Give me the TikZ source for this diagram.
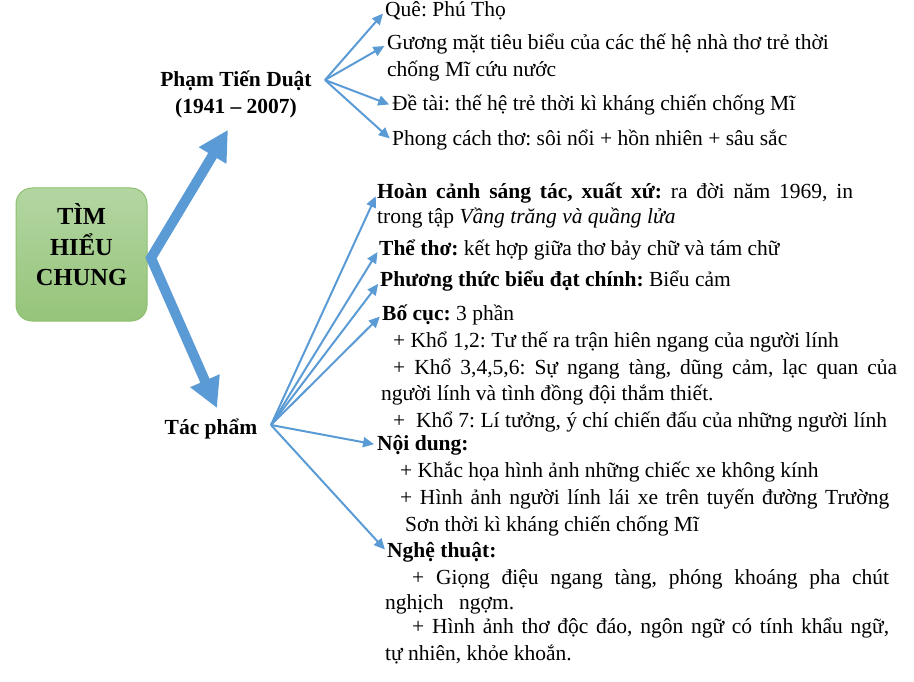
\documentclass[tikz,border=0pt]{standalone}
\usepackage{fontspec}
\setmainfont{Liberation Serif}
\usepackage{xcolor}
\usetikzlibrary{arrows.meta,positioning}
\frenchspacing

\definecolor{arrowblue}{HTML}{5B9BD5}
\definecolor{boxtop}{HTML}{B3D6A2}
\definecolor{boxbot}{HTML}{96C47A}
\definecolor{boxline}{HTML}{8DBF6E}

\tikzset{
  txt/.style={anchor=base west, inner sep=0pt, font=\fontsize{21.5}{27}\selectfont},
  lbl/.style={inner sep=0pt, align=center, font=\fontsize{21.5}{27}\selectfont\bfseries},
  rootbox/.style={draw=boxline, line width=1pt, rounded corners=16pt, top color=boxtop,
    bottom color=boxbot, minimum width=131pt, minimum height=133pt, align=center,
    inner sep=0pt, font=\fontsize{24.5}{30.5}\selectfont\bfseries},
  fan/.style={draw=arrowblue, line width=2pt, shorten >=3pt, -{Triangle[length=11pt,width=10pt]}},
  big/.style={draw=arrowblue, line width=10pt, line join=miter,
    {Triangle[length=30pt,width=30pt]}-{Triangle[length=30pt,width=30pt]}}
}

\begin{document}
\begin{tikzpicture}[x=1pt,y=-1pt]
\useasboundingbox (0,0) rectangle (914,682);

\node[rootbox] (tim) at (81.5,254.5) {TÌM\\HIỂU\\CHUNG\rule[-19.5pt]{0pt}{19.5pt}};
\coordinate (bend) at (151,258);

\node[lbl, anchor=base] (tg) at (236,114) {Phạm Tiến Duật\\(1941 – 2007)};
\node[lbl, anchor=base] (tp) at (211,434) {Tác phẩm};
\draw[big] ([xshift=-8pt,yshift=-11pt]tg.south) -- (bend) -- ([xshift=6pt,yshift=10pt]tp.north);

% tac gia
\node[txt] (que) at (385,17) {Quê: Phú Thọ};
\node[txt] (gm) at (387,50) {Gương mặt tiêu biểu của các thế hệ nhà thơ trẻ thời};
\node[txt] (gm2) at (387,77) {chống Mĩ cứu nước};
\node[txt] (dt) at (392,111) {Đề tài: thế hệ trẻ thời kì kháng chiến chống Mĩ};
\node[txt] (pc) at (392,146) {Phong cách thơ: sôi nổi + hồn nhiên + sâu sắc};

% tac pham
\node[txt] (hc) at (377,199) {\makebox[476pt][s]{\textbf{Hoàn cảnh sáng tác, xuất xứ:} ra đời năm 1969, in}};
\node[txt] (hc2) at (377,224) {trong tập \textit{Vầng trăng và quầng lửa}};
\node[txt] (tt) at (379,255) {\textbf{Thể thơ:} kết hợp giữa thơ bảy chữ và tám chữ};
\node[txt] (pt) at (380,287) {\textbf{Phương thức biểu đạt chính:} Biểu cảm};
\node[txt] (bc) at (382,320) {\textbf{Bố cục:} 3 phần};
\node[txt] (k12) at (393,347) {+ Khổ 1,2: Tư thế ra trận hiên ngang của người lính};
\node[txt] (k36) at (393,374) {\makebox[504pt][s]{+ Khổ 3,4,5,6: Sự ngang tàng, dũng cảm, lạc quan của}};
\node[txt] (k36b) at (381,400) {người lính và tình đồng đội thắm thiết.};
\node[txt] (k7) at (393,427) {+\ \ Khổ 7: Lí tưởng, ý chí chiến đấu của những người lính};
\node[txt] (nd) at (377,450) {\textbf{Nội dung:}};
\node[txt] (nd1) at (400,477) {+ Khắc họa hình ảnh những chiếc xe không kính};
\node[txt] (nd2) at (400,504) {\makebox[489pt][s]{+ Hình ảnh người lính lái xe trên tuyến đường Trường}};
\node[txt] (nd2b) at (405,531) {Sơn thời kì kháng chiến chống Mĩ};
\node[txt] (nt) at (387,557) {\textbf{Nghệ thuật:}};
\node[txt] (nt1) at (412,584) {\makebox[477pt][s]{+ Giọng điệu ngang tàng, phóng khoáng pha chút}};
\node[txt] (nt1b) at (385,609) {\makebox[129pt][s]{nghịch ngợm.}};
\node[txt] (nt2) at (412,633) {\makebox[477pt][s]{+ Hình ảnh thơ độc đáo, ngôn ngữ có tính khẩu ngữ,}};
\node[txt] (nt2b) at (385,660) {tự nhiên, khỏe khoắn.};

\coordinate (tgfan) at (325,80);
\coordinate (tpfan) at (271,425);
\path (tgfan) edge[fan] (que.west);
\path (tgfan) edge[fan] (gm.west);
\path (tgfan) edge[fan] (dt.west);
\path (tgfan) edge[fan] (pc.west);
\path (tpfan) edge[fan] (hc.west);
\path (tpfan) edge[fan] (tt.west);
\path (tpfan) edge[fan] (pt.west);
\path (tpfan) edge[fan] (bc.west);
\path (tpfan) edge[fan] (nd.west);
\path (tpfan) edge[fan] (nt.west);
\end{tikzpicture}
\end{document}
